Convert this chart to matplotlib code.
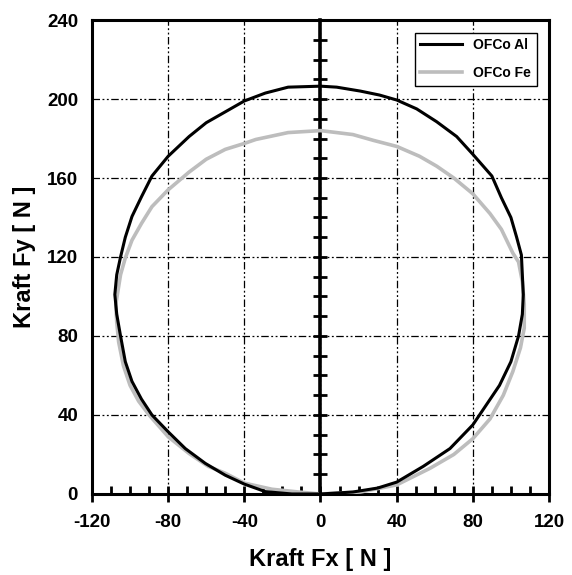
import numpy as np
import matplotlib
matplotlib.use('Agg')
import matplotlib.pyplot as plt
from matplotlib.ticker import MultipleLocator

plt.rcParams['font.family'] = ['Liberation Sans', 'DejaVu Sans']
plt.rcParams['font.weight'] = 'bold'
plt.rcParams['axes.unicode_minus'] = False

# force locus, going round from (0, 0)
al_fx = [0, 17, 30, 40, 54, 68, 80, 87, 94, 100, 104, 106, 106.5, 106, 105.5,
         103, 100, 95, 90, 80, 71.5, 61, 50.5, 40, 31, 21, 8.5, 0,
         -17, -29, -40, -50, -60, -69, -80, -88.5, -94, -99, -102.5, -105,
         -107, -108, -107, -105, -102.5, -99, -94, -88.5, -80, -71, -60.5,
         -50, -40, -29, -15, 0]
al_fy = [0, 1, 3, 6, 14, 23, 35, 45, 55, 67, 80, 91, 101, 111, 121,
         130, 140, 150, 161, 172, 181, 188.5, 195, 199.5, 202, 204, 206, 206.5,
         206, 203, 199, 193.5, 188, 181, 171, 161, 150.5, 140.5, 130, 120,
         111, 101, 91, 80, 67, 57, 48, 40, 31.5, 23, 15.5,
         9.5, 5, 1.2, 0, 0]

fe_fx = [0, 21, 40, 57.5, 70, 80, 89, 96, 101, 105, 107, 107, 106, 104,
         101, 95, 89, 80, 70, 61, 52, 40, 28, 17, 0,
         -17, -34, -40, -50, -60, -69, -80, -88.5, -94, -99, -102.5,
         -105, -107.5, -107, -106, -103.5, -100, -95.5, -90, -80, -69, -59,
         -50, -40, -25.5, -11.5, 0]
fe_fy = [0, 1, 4.6, 13, 20, 28, 38, 50, 62, 74, 84, 96, 107.5, 117.5,
         122, 134, 142, 152, 160, 166, 171, 176, 179, 182, 184,
         183, 179.5, 177.5, 174.5, 169.5, 163, 154, 145.5, 137, 128.5, 119.5,
         111, 96, 87, 77, 65, 55, 47, 40, 29, 20.5, 14,
         10.5, 5.5, 2.4, 1, 0]

labels = ['OFCo Al', 'OFCo Fe']
colors = ['black', '#bdbdbd']

fig = plt.figure(figsize=(5.72, 5.75), dpi=100)
ax = fig.add_axes([0.1608, 0.1409, 0.799, 0.8243])

ax.plot(fe_fx, fe_fy, color=colors[1], lw=2.6, label=labels[1], zorder=3)
ax.plot(al_fx, al_fy, color=colors[0], lw=2.2, label=labels[0], zorder=4)

ax.set_xlim(-120, 120)
ax.set_ylim(0, 240)
ax.xaxis.set_major_locator(MultipleLocator(40))
ax.xaxis.set_minor_locator(MultipleLocator(10))
ax.yaxis.set_major_locator(MultipleLocator(40))

ax.grid(True, which='major', color='black', lw=0.9, dashes=(6, 2, 1.5, 2, 1.5, 2))
ax.set_axisbelow(True)

for s in ax.spines.values():
    s.set_linewidth(2.2)
ax.tick_params(axis='x', which='major', direction='inout', length=11, width=2,
               labelsize=13.5, pad=9)
ax.tick_params(axis='x', which='minor', direction='in', length=6, width=2)
ax.tick_params(axis='y', which='major', length=0, labelsize=13.5, pad=10)

# y axis crossing at Fx = 0
sec = ax.secondary_yaxis(0.5)
sec.yaxis.set_major_locator(MultipleLocator(10))
sec.tick_params(direction='inout', length=10, width=2,
                labelleft=False, labelright=False)
for s in sec.spines.values():
    s.set_linewidth(2.6)

ax.set_xlabel('Kraft Fx [ N ]', fontsize=17, fontweight='bold', labelpad=12)
ax.set_ylabel('Kraft Fy [ N ]', fontsize=17, fontweight='bold', labelpad=8)

handles, labs = ax.get_legend_handles_labels()
leg = ax.legend(handles[::-1], labs[::-1], loc='upper right', fontsize=10,
                frameon=True, fancybox=False, handlelength=3,
                labelspacing=1.0, borderaxespad=0.9, framealpha=1)
leg.get_frame().set_edgecolor('black')
leg.get_frame().set_linewidth(1)

fig.savefig('out.png', dpi=100)
